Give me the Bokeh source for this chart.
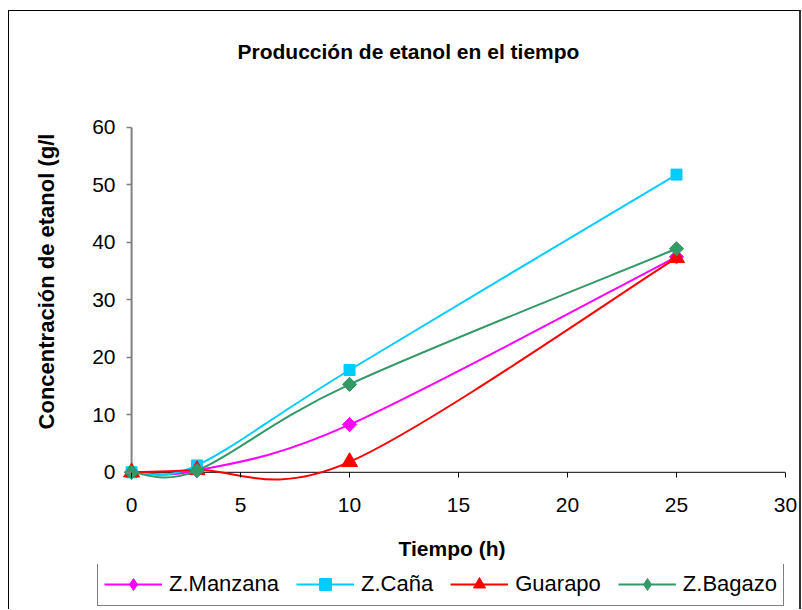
import numpy as np
from bokeh.plotting import figure
from bokeh.layouts import column
from bokeh.models import Range1d, Legend, LegendItem, FixedTicker
from bokeh.embed import file_html
from bokeh.resources import INLINE

# Ethanol concentration (g/l) over time (h) for each culture
tiempo = [0, 3, 10, 25]
z_manzana = [0.0, 0.3, 8.3, 37.5]
z_cana = [0.0, 1.2, 17.8, 51.8]
guarapo = [0.0, 0.4, 1.8, 37.3]
z_bagazo = [0.0, 0.3, 15.3, 38.9]

series_names = ["Z.Manzana", "Z.Caña", "Guarapo", "Z.Bagazo"]
x_ticks = [0, 5, 10, 15, 20, 25, 30]
y_ticks = [0, 10, 20, 30, 40, 50, 60]

FONT = "Liberation Sans"


def smooth_segments(xs, ys):
    """Cubic Bezier control points for a smoothed line through the points."""
    pts = np.column_stack([np.asarray(xs, float), np.asarray(ys, float)])
    n = len(pts)
    seg = {k: [] for k in ("x0", "y0", "x1", "y1", "cx0", "cy0", "cx1", "cy1")}
    for i in range(n - 1):
        p0 = pts[max(i - 1, 0)]
        p1 = pts[i]
        p2 = pts[i + 1]
        p3 = pts[min(i + 2, n - 1)]
        c1 = p1 + (p2 - p0) / 6.0
        c2 = p2 - (p3 - p1) / 6.0
        seg["x0"].append(p1[0]); seg["y0"].append(p1[1])
        seg["x1"].append(p2[0]); seg["y1"].append(p2[1])
        seg["cx0"].append(c1[0]); seg["cy0"].append(c1[1])
        seg["cx1"].append(c2[0]); seg["cy1"].append(c2[1])
    return seg


# headroom above 60 keeps the vertical axis title centred a little higher
p = figure(
    width=790, height=553,
    x_range=Range1d(-0.6, 30), y_range=Range1d(-1.6, 68),
    output_backend="svg", toolbar_location=None,
    min_border_left=109, min_border_right=14,
    min_border_top=70, min_border_bottom=83,
)
p.frame_align = False
p.outline_line_color = None
p.background_fill_color = "white"
p.border_fill_color = "white"
p.xgrid.visible = False
p.ygrid.visible = False

p.title.text = "Producción de etanol en el tiempo"
p.title.text_font = FONT
p.title.text_font_size = "21px"
p.title.text_font_style = "bold"
p.title.text_color = "black"
p.title.align = "left"
p.title.offset = 119
p.title.standoff = 38

# x axis: ticks hang from the y=0 line
xa = p.xaxis[0]
xa.ticker = FixedTicker(ticks=x_ticks)
xa.axis_line_color = None
xa.major_tick_line_color = "black"
xa.major_tick_in = 9
xa.major_tick_out = -4
xa.minor_tick_line_color = None
xa.major_label_standoff = 16
xa.major_label_text_font = FONT
xa.major_label_text_font_size = "21px"
xa.major_label_text_color = "black"
xa.axis_label = "Tiempo (h)"
xa.axis_label_text_font = FONT
xa.axis_label_text_font_size = "21px"
xa.axis_label_text_font_style = "bold"
xa.axis_label_text_color = "black"
xa.axis_label_standoff = 22

# y axis: ticks hang from the x=0 line
ya = p.yaxis[0]
ya.ticker = FixedTicker(ticks=y_ticks)
ya.axis_line_color = None
ya.major_tick_line_color = "#808080"
ya.major_tick_line_width = 1.5
ya.major_tick_in = 13
ya.major_tick_out = -8
ya.minor_tick_line_color = None
ya.major_label_standoff = 3
ya.major_label_text_font = FONT
ya.major_label_text_font_size = "21px"
ya.major_label_text_color = "black"
ya.axis_label = "Concentración de etanol (g/l"
ya.axis_label_text_font = FONT
ya.axis_label_text_font_size = "22px"
ya.axis_label_text_font_style = "bold"
ya.axis_label_text_color = "black"
ya.axis_label_standoff = 30

# axis lines through the origin
p.segment(x0=x_ticks[0], y0=y_ticks[0], x1=x_ticks[0], y1=y_ticks[-1],
          line_color="#808080", line_width=2)
p.segment(x0=x_ticks[0], y0=y_ticks[0], x1=x_ticks[-1], y1=y_ticks[0],
          line_color="black", line_width=1)

# (values, colour, marker in plot, marker angle, marker size, legend marker)
styles = [
    (z_manzana, "#FF00FF", "square", np.pi / 4, 10, "diamond"),
    (z_cana, "#00CCFF", "square", 0.0, 11, "square"),
    (guarapo, "#FF0000", "triangle", 0.0, 16, "triangle"),
    (z_bagazo, "#339966", "square", np.pi / 4, 10, "diamond"),
]

# legend strip below the chart; its key renderers sit outside its view
q = figure(
    width=790, height=45,
    x_range=Range1d(1000, 1001), y_range=Range1d(1000, 1001),
    output_backend="svg", toolbar_location=None,
    x_axis_location=None, y_axis_location=None,
    min_border_left=0, min_border_right=0, min_border_top=0, min_border_bottom=0,
)
q.frame_align = False
q.title.visible = False
q.outline_line_color = None
q.xgrid.visible = False
q.ygrid.visible = False
q.border_fill_color = "white"
q.background_fill_color = "white"

items = []
for name, (vals, color, marker, angle, size, key_marker) in zip(series_names, styles):
    seg = smooth_segments(tiempo, vals)
    p.bezier(**seg, line_color=color, line_width=2)
    p.scatter(tiempo, vals, marker=marker, angle=angle, size=size,
              fill_color=color, line_color=color)
    k_line = q.bezier(**seg, line_color=color, line_width=2)
    k_pts = q.scatter(tiempo, vals, marker=key_marker, size=size,
                      fill_color=color, line_color=color)
    items.append(LegendItem(label=name, renderers=[k_line, k_pts]))

legend = Legend(
    items=items, orientation="horizontal", location=(88, 3),
    label_text_font=FONT, label_text_font_size="22px", label_text_color="black",
    glyph_width=58, glyph_height=30, label_standoff=7, spacing=17,
    padding=6, margin=0,
    border_line_color="black", border_line_width=1,
    background_fill_color="white", background_fill_alpha=1.0,
)
q.add_layout(legend, "center")

chart = column(p, q, spacing=0)
chart.styles = {
    "margin-left": "8px", "margin-top": "10px",
    "border-left": "1px solid #000", "border-top": "1px solid #000",
    "border-right": "2px solid #333",
}

open("out.html", "w").write(file_html(chart, INLINE))
